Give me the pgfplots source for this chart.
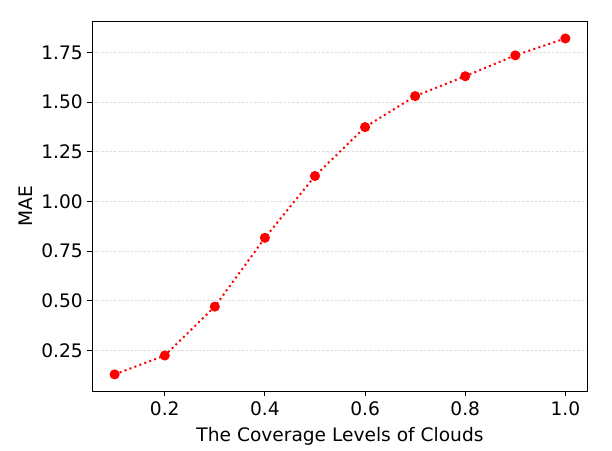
\documentclass[border=0pt]{standalone}
\usepackage{fontspec}
\setmainfont{DejaVu Sans}
\usepackage{pgfplots}
\pgfplotsset{compat=1.18}
\begin{document}
\begin{tikzpicture}
\path[use as bounding box] (-69.3pt,-44.4pt) rectangle (391.1pt,294.3pt);
\begin{axis}[
  at={(0pt,0pt)}, anchor=origin,
  scale only axis,
  width=373pt, height=278pt,
  xmin=0.055, xmax=1.045,
  ymin=0.0455, ymax=1.9045,
  xtick={0.2,0.4,0.6,0.8,1.0},
  ytick={0.25,0.5,0.75,1.0,1.25,1.5,1.75},
  xticklabel style={yshift=-1pt,/pgf/number format/.cd,fixed,fixed zerofill,precision=1},
  yticklabel style={/pgf/number format/.cd,fixed,fixed zerofill,precision=2},
  /pgf/number format/assume math mode=true,
  tick align=outside,
  major tick length=3.5pt,
  tick style={black, line width=0.8pt},
  xtick pos=bottom, ytick pos=left,
  axis line style={black, line width=0.8pt},
  ymajorgrids,
  major grid style={gray!25, line width=0.6pt, dash pattern=on 2.2pt off 1.0pt},
  tick label style={font=\fontsize{14}{16}\selectfont},
  label style={font=\fontsize{14}{16}\selectfont},
  xlabel={The Coverage Levels of Clouds},
  ylabel={MAE},
  xlabel style={yshift=-1.5pt},
  ylabel style={yshift=0pt},
]
\addplot[red, line width=1.5pt, dash pattern=on 1.5pt off 2.475pt,
  mark=*, mark size=3pt, mark options={solid, fill=red, draw=red}]
  coordinates {(0.1,0.13) (0.2,0.225) (0.3,0.471) (0.4,0.817) (0.5,1.128)
    (0.6,1.374) (0.7,1.53) (0.8,1.63) (0.9,1.735) (1.0,1.82)};
\end{axis}
\end{tikzpicture}
\end{document}
